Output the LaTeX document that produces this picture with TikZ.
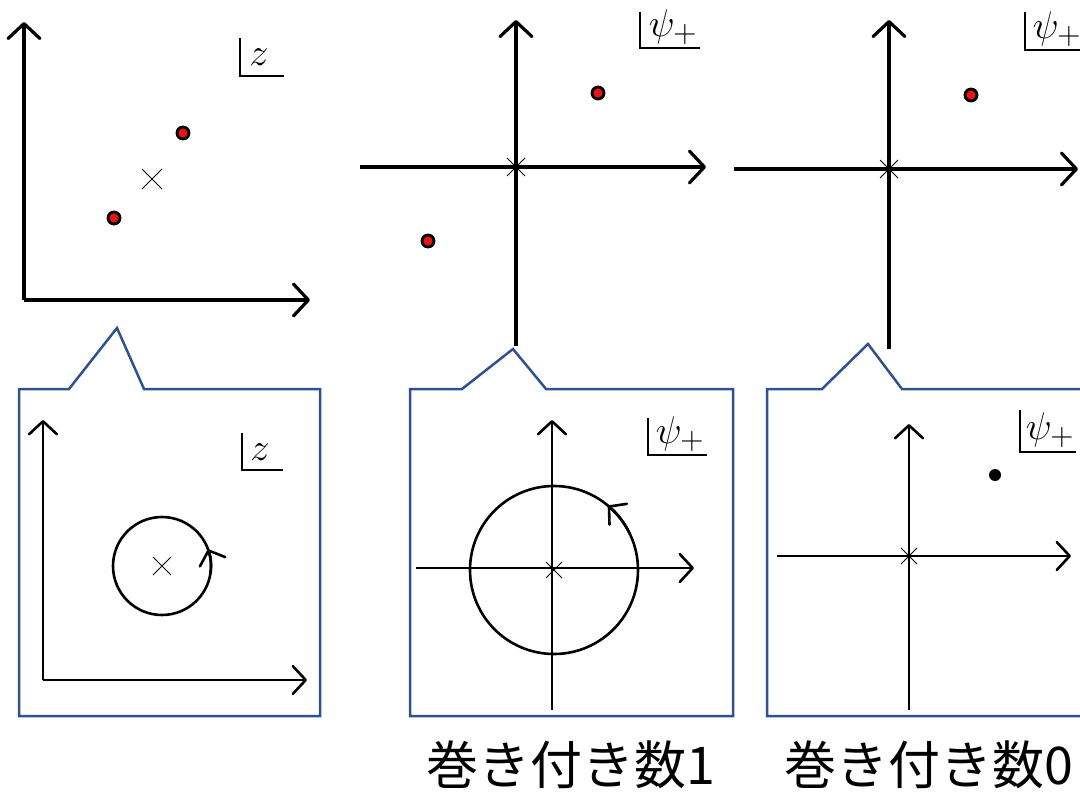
\documentclass[tikz,border=0pt]{standalone}
\usepackage{fontspec}
\newfontfamily\cjk{Noto Sans CJK JP}
\usetikzlibrary{arrows.meta,calc}
\definecolor{boxblue}{RGB}{47,82,143}
\definecolor{dotred}{RGB}{230,20,20}
\tikzset{
  axis/.style={line width=3.2pt,-{Straight Barb[length=15pt,width=32pt,line width=3.2pt,round]}},
  saxis/.style={line width=2.6pt,-{Straight Barb[length=13pt,width=28pt,line width=2.6pt,round]}},
  loop/.style={line width=2.6pt},
  looparrow/.style={line width=2.6pt,-{Straight Barb[length=12pt,width=27pt,line width=2.6pt,round]}},
  callout/.style={draw=boxblue,line width=2.5pt,line join=miter},
  reddot/.style={circle,fill=dotred,draw=black,line width=2.8pt,minimum size=12pt,inner sep=0pt},
  blackdot/.style={circle,fill=black,minimum size=12pt,inner sep=0pt},
  cross/.style={draw=black,line width=1pt},
  corner/.style={line width=2pt},
  lbl/.style={inner sep=0pt,font=\Huge,scale=1.55},
  caption/.style={inner sep=0pt,font=\cjk\fontsize{52}{62}\selectfont}
}
\newcommand{\crossat}[2]{\draw[cross] ($(#1)+(-#2,-#2)$) -- ($(#1)+(#2,#2)$) ($(#1)+(-#2,#2)$) -- ($(#1)+(#2,-#2)$);}
\begin{document}
\begin{tikzpicture}[x=1pt,y=-1pt]
\useasboundingbox (0,0) rectangle (1080,792);
\clip (0,0) rectangle (1080,792);
% ---------- top-left panel ----------
\coordinate (o1) at (24,300);
\coordinate (y1) at (24,22);
\coordinate (x1) at (310,300);
\draw[axis] (o1) -- (y1);
\draw[axis] (o1) -- (x1);
\node[lbl] (z1) at (259,57) {$z$};
\coordinate (z1a) at (240,38);
\coordinate (z1b) at (240,76);
\coordinate (z1c) at (284,76);
\draw[corner] (z1a) -- (z1b) -- (z1c);
\node[reddot] (d1) at (183,133) {};
\node[reddot] (d2) at (114,218) {};
\coordinate (c1) at (152,179);
\crossat{c1}{10}
% ---------- top-middle panel ----------
\coordinate (o2) at (516,167);
\coordinate (yb2) at (516,346);
\coordinate (y2) at (516,20);
\coordinate (xl2) at (360,167);
\coordinate (x2) at (706,167);
\draw[axis] (yb2) -- (y2);
\draw[axis] (xl2) -- (x2);
\crossat{o2}{9}
\node[reddot] (d3) at (598,93) {};
\node[reddot] (d4) at (428,241) {};
\node[lbl] (p1) at (673,27) {$\psi_+$};
\coordinate (p1a) at (640,12);
\coordinate (p1b) at (640,48);
\coordinate (p1c) at (700,48);
\draw[corner] (p1a) -- (p1b) -- (p1c);
% ---------- top-right panel ----------
\coordinate (o3) at (889,169);
\coordinate (yb3) at (889,349);
\coordinate (y3) at (889,20);
\coordinate (xl3) at (734,169);
\coordinate (x3) at (1078,169);
\draw[axis] (yb3) -- (y3);
\draw[axis] (xl3) -- (x3);
\crossat{o3}{9}
\node[reddot] (d5) at (971,95) {};
\node[lbl] (p2) at (1057,29) {$\psi_+$};
\coordinate (p2a) at (1025,12);
\coordinate (p2b) at (1025,50);
\coordinate (p2c) at (1082,50);
\draw[corner] (p2a) -- (p2b) -- (p2c);
% ---------- callout boxes ----------
\draw[callout] (19,389) -- (69,389) -- (117,328) -- (144,389) -- (320,389) -- (320,716) -- (19,716) -- cycle;
\draw[callout] (410,389) -- (462,389) -- (513,349) -- (546,389) -- (733,389) -- (733,716) -- (410,716) -- cycle;
\draw[callout] (767,389) -- (822,389) -- (868,344) -- (902,389) -- (1095,389) -- (1095,716) -- (767,716) -- cycle;
% ---------- box 1 ----------
\coordinate (bo1) at (43,680);
\coordinate (by1) at (43,420);
\coordinate (bx1) at (307,680);
\draw[saxis] (bo1) -- (by1);
\draw[saxis] (bo1) -- (bx1);
\coordinate (cc1) at (162,566);
\draw[loop] (cc1) circle[radius=49];
\draw[looparrow] ($(cc1)+(10:49)$) arc[start angle=10,end angle=-20,radius=49];
\crossat{cc1}{9}
\node[lbl] (z2) at (260,452) {$z$};
\coordinate (z2a) at (242,433);
\coordinate (z2b) at (242,470);
\coordinate (z2c) at (283,470);
\draw[corner] (z2a) -- (z2b) -- (z2c);
% ---------- box 2 ----------
\coordinate (bo2) at (552,568);
\coordinate (byb2) at (552,710);
\coordinate (by2) at (552,420);
\coordinate (bxl2) at (416,568);
\coordinate (bx2) at (694,568);
\draw[saxis] (byb2) -- (by2);
\draw[saxis] (bxl2) -- (bx2);
\coordinate (cc2) at (554,570);
\draw[loop] (cc2) circle[radius=84];
\draw[looparrow] ($(cc2)+(-25:84)$) arc[start angle=-25,end angle=-50,radius=84];
\crossat{cc2}{8}
\node[lbl] (p3) at (680,434) {$\psi_+$};
\coordinate (p3a) at (648,418);
\coordinate (p3b) at (648,455);
\coordinate (p3c) at (707,455);
\draw[corner] (p3a) -- (p3b) -- (p3c);
% ---------- box 3 ----------
\coordinate (bo3) at (909,556);
\coordinate (byb3) at (909,710);
\coordinate (by3) at (909,424);
\coordinate (bxl3) at (777,556);
\coordinate (bx3) at (1071,556);
\draw[saxis] (byb3) -- (by3);
\draw[saxis] (bxl3) -- (bx3);
\crossat{bo3}{8}
\node[blackdot] (d6) at (995,475) {};
\node[lbl] (p4) at (1050,430) {$\psi_+$};
\coordinate (p4a) at (1020,410);
\coordinate (p4b) at (1020,452);
\coordinate (p4c) at (1076,452);
\draw[corner] (p4a) -- (p4b) -- (p4c);
% ---------- captions ----------
\node[caption,anchor=base] (t1) at (571,784) {巻き付き数1};
\node[caption,anchor=base] (t2) at (929,784) {巻き付き数0};
\end{tikzpicture}
\end{document}
